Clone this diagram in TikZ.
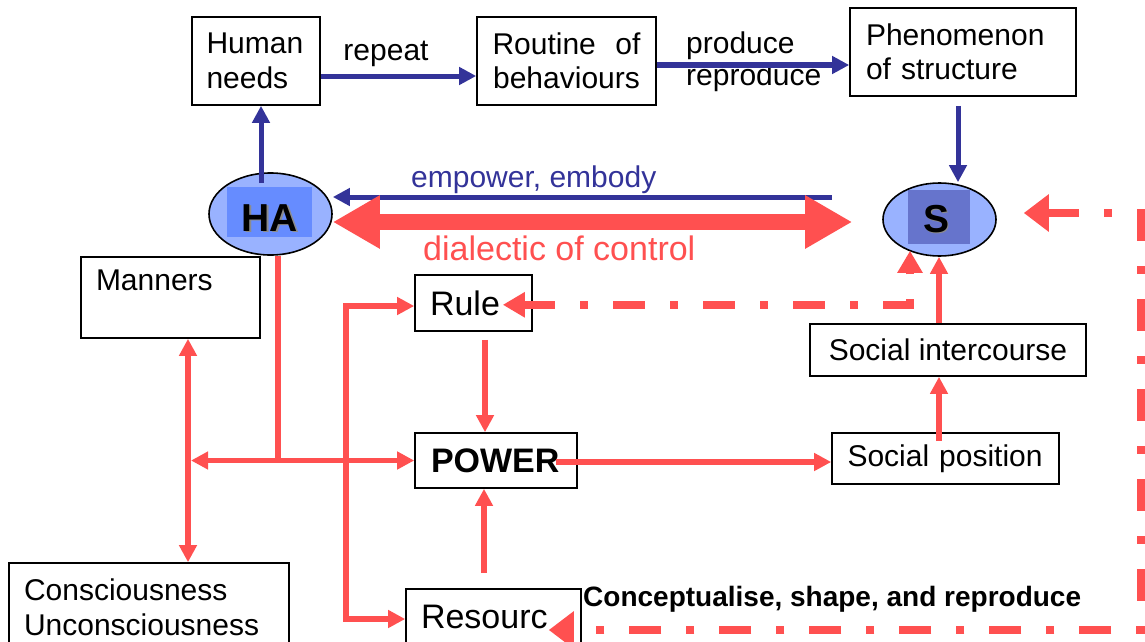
\documentclass[tikz,border=0pt]{standalone}
\usepackage{fontspec}
\setmainfont{Liberation Sans}
\usetikzlibrary{arrows.meta,calc,shapes.geometric}

\definecolor{navy}{HTML}{333399}
\definecolor{coral}{HTML}{FF5050}
\definecolor{ovalfill}{HTML}{99B2FF}
\definecolor{hafill}{HTML}{668CFF}
\definecolor{sfill}{HTML}{6674CC}

\newcommand\fsA{\fontsize{30}{34.5}\selectfont}
\newcommand\fsB{\fontsize{34}{39}\selectfont}
\newcommand\fsC{\fontsize{28}{32}\selectfont}
\newcommand\fsD{\fontsize{39}{45}\selectfont}

\begin{document}
\begin{tikzpicture}[x=1pt,y=-1pt,
  box/.style={draw=black, line width=1.6pt, inner sep=0pt, align=left, font=\fsA, fill=white},
  oval/.style={ellipse, draw=black, line width=1.6pt, fill=ovalfill, inner sep=0pt},
  lbl/.style={inner sep=0pt, font=\fsA},
  smalltip/.tip={Triangle[length=17pt,width=17pt]},
  dashtip/.tip={Triangle[length=22pt,width=24pt]},
  bigdashtip/.tip={Triangle[length=25pt,width=36pt]},
  bigtip/.tip={Triangle[length=47pt,width=50pt]},
  bluearrow/.style={draw=navy, line width=5pt, -smalltip},
  redline/.style={draw=coral, line width=5.5pt},
  redarrow/.style={redline, -smalltip},
  redboth/.style={redline, smalltip-smalltip},
  dashdot/.style={draw=coral, line width=8pt, dash pattern=on 32pt off 25pt on 8pt off 25pt}
]
\useasboundingbox (0,0) rectangle (1145,642);
\clip (0,0) rectangle (1145,642);

% boxes
\node[box, minimum width=128pt, minimum height=88pt, text width=99pt] (needs) at (256,61) {Human\\needs};
\node[box, minimum width=179pt, minimum height=88pt, align=center] (routine) at (566.5,61) {\hbox to 148pt{Routine\hfill of}\\behaviours};
\node[box, minimum width=226pt, minimum height=88pt, text width=194pt] (phen) at (963,52) {Phenomenon\\of structure};
\node[box, minimum width=179pt, minimum height=81pt, text width=149pt] (manners) at (170.5,297.5) {Manners\\\mbox{}};
\node[box, font=\fsB, minimum width=117pt, minimum height=56pt, text width=87pt] (rule) at (473.5,303) {Rule};
\node[box, font={\fsB\bfseries}, minimum width=162pt, minimum height=55pt, text width=130pt] (power) at (496,460.5) {POWER};
\node[box, font=\fsB, minimum width=175pt, minimum height=56pt, text width=145pt] (resourc) at (493.5,617) {Resourc};
\node[box, minimum width=227pt, minimum height=51pt, text width=196pt] (spos) at (945.5,458.5) {Social position};
\node[box, minimum width=276pt, minimum height=52pt] (sint) at (948,350) {Social intercourse};
\node[box, minimum width=280pt, minimum height=89pt, text width=250pt] (cons) at (149,607.5) {Consciousness\\Unconsciousness};

% human agency and structure ovals
\node[oval, minimum width=123pt, minimum height=82pt] (HA) at (270.5,214) {};
\fill[hafill] (227,187) rectangle (312,237);
\node[inner sep=0pt, font={\fsD\bfseries}, text=black!45, anchor=base] (HAshade) at (271.5,232.5) {HA};
\node[inner sep=0pt, font={\fsD\bfseries}, anchor=base] (HAtext) at (270,231) {HA};

\node[oval, minimum width=113pt, minimum height=73pt] (S) at (939.5,219.5) {};
\fill[sfill] (908,190) rectangle (970,244);
\node[inner sep=0pt, font={\fsD\bfseries}, text=black!45, anchor=base] (Sshade) at (937.5,233.5) {S};
\node[inner sep=0pt, font={\fsD\bfseries}, anchor=base] (Stext) at (936,232) {S};

% labels
\node[lbl, anchor=base] (repeat) at (386,60) {repeat};
\node[lbl, anchor=base west] (produce) at (686,53) {produce};
\node[lbl, anchor=base west] (reproduce) at (686,85) {reproduce};
\node[lbl, text=navy, anchor=base west] (empower) at (411,187) {empower, embody};
\node[lbl, font=\fsB, text=coral, anchor=base west] (dialectic) at (423,260) {dialectic of control};
\node[lbl, font={\fsC\bfseries}, anchor=base west] (concept) at (583,606) {Conceptualise, shape, and reproduce};

% blue connectors
\coordinate (a1) at ($(needs.east)+(0,15)$);
\draw[bluearrow] (a1) -- (a1 -| routine.west);
\coordinate (a2) at ($(routine.east)+(0,4)$);
\draw[bluearrow] (a2) -- (a2 -| phen.west);
\coordinate (a3) at ($(phen.south)+(-5,9)$);
\draw[bluearrow] (a3) -- (a3 |- S.north);
\coordinate (a4) at ($(HA.center)+(-9.5,-31)$);
\draw[bluearrow] (a4) -- (a4 |- needs.south);
\coordinate (a5) at ($(S.west)+(-50,-22.5)$);
\draw[bluearrow] (a5) -- (a5 -| HA.east);

% dialectic of control
\draw[coral, line width=16pt, bigtip-bigtip] ($(HA.east)+(0,8)$) -- ($(S.west)+(-30,2.5)$);

% red connectors
\coordinate (hx) at ($(HA.south)+(7.5,0)$);
\coordinate (j) at (hx |- power.west);
\draw[redline] (hx) -- (j);
\coordinate (m1) at ($(manners.south)+(17.5,0)$);
\draw[redarrow] (j) -- ($(j -| m1)+(3,0)$);
\draw[redarrow] (j) -- (power.west);
\draw[redboth] (m1) -- (m1 |- cons.north);
\draw[redboth] ($(rule.west)+(0,3)$) -- ++(-68,0) |- ($(resourc.west)+(0,2)$);
\coordinate (b1) at ($(rule.south)+(11.5,8)$);
\draw[redarrow] (b1) -- (b1 |- power.north);
\coordinate (b2) at ($(resourc.north)+(-9.5,-15)$);
\draw[redarrow] (b2) -- (b2 |- power.south);
\coordinate (b3) at ($(power.east)+(-22,1.5)$);
\draw[redarrow] (b3) -- (b3 -| spos.west);
\coordinate (b4) at ($(spos.north)+(-6.5,9)$);
\draw[redarrow] (b4) -- (b4 |- sint.south);
\coordinate (b5) at ($(sint.north)+(-9,0)$);
\draw[redarrow] (b5) -- (b5 |- S.south);

% dash-dot feedback paths
\coordinate (q) at ($(S.south)+(-29.5,48)$);
\draw[dashdot, dashtip-dashtip] ($(q -| rule.east)+(-30,0)$) -- (q) -- ($(q |- S.south)+(0,-6)$);
\coordinate (t1) at ($(resourc.east)+(-33,13)$);
\coordinate (t2) at ($(S.east)+(27,-6.5)$);
\coordinate (c2) at ($(t2)+(117,0)$);
\draw[dashdot, bigdashtip-bigdashtip] (t2) -- (c2) -- (t1 -| c2) -- (t1);
\end{tikzpicture}
\end{document}
